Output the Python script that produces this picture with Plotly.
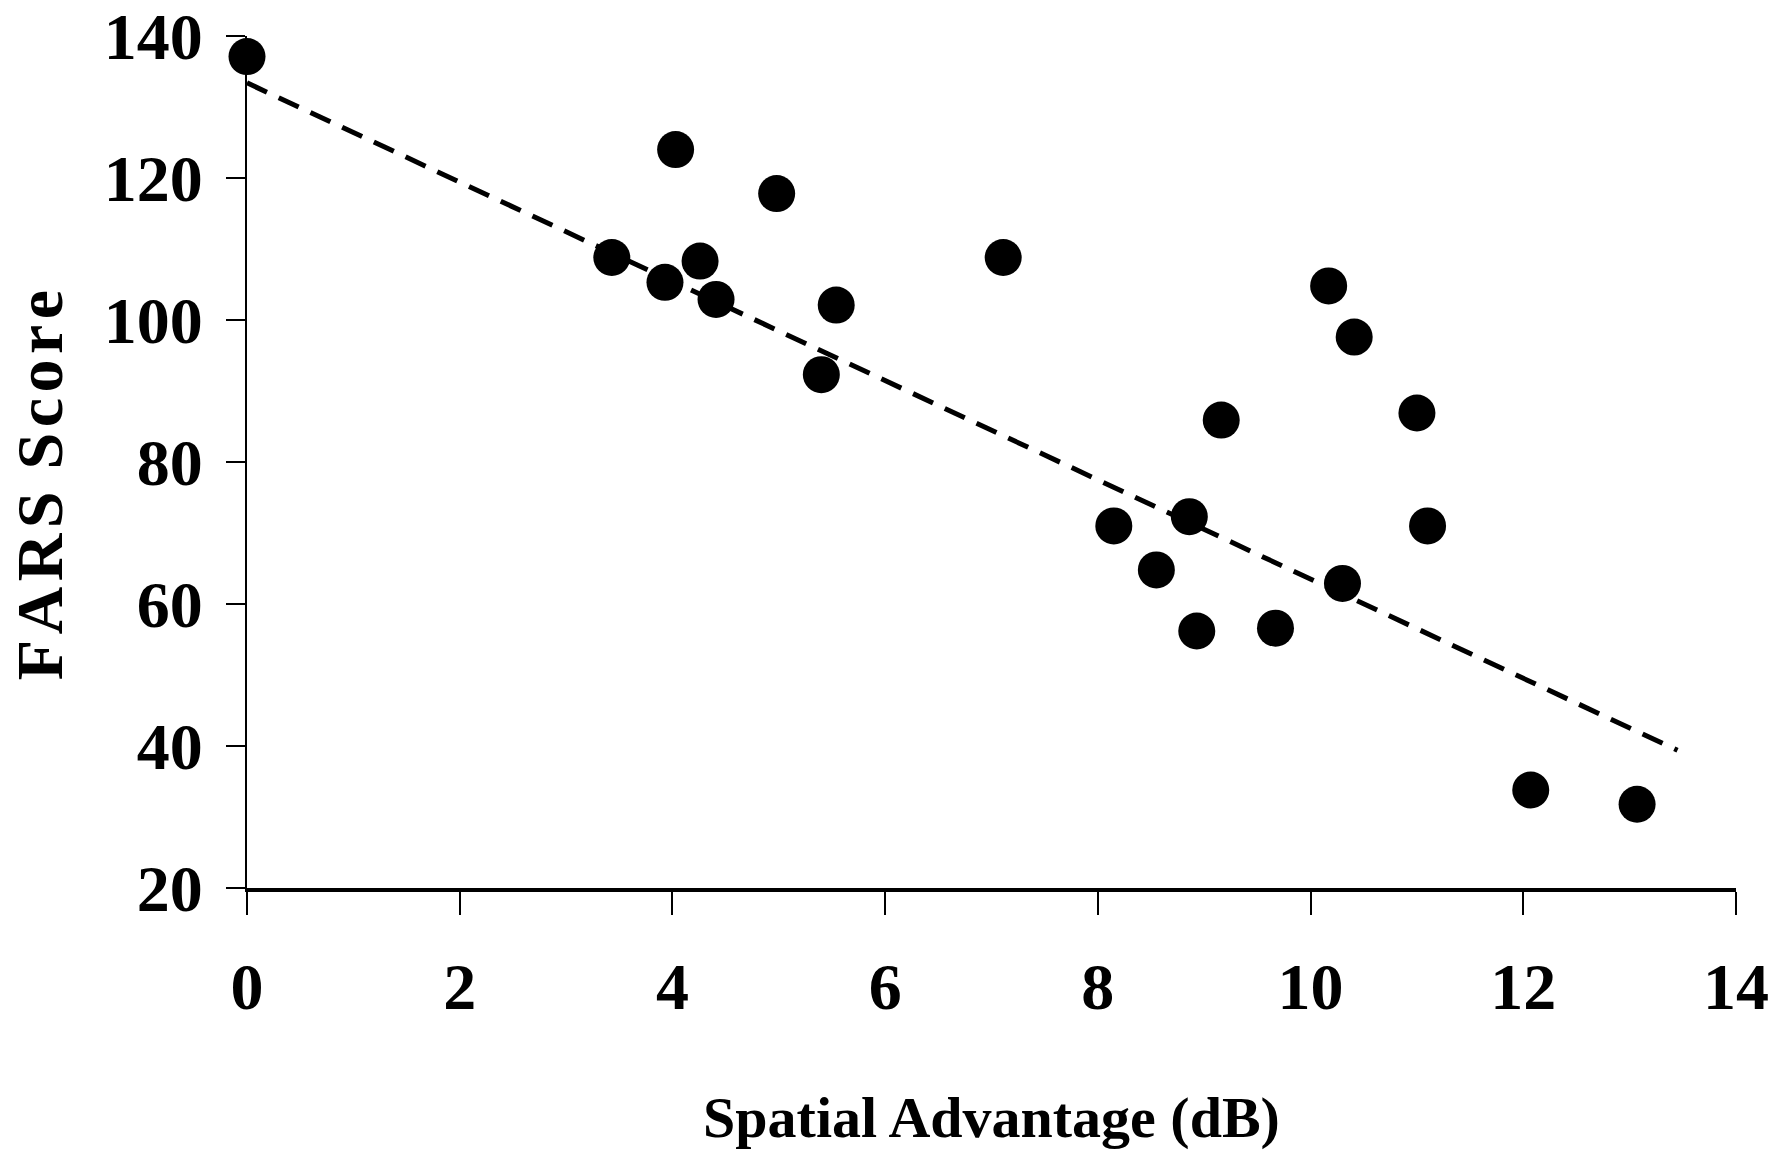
import plotly.graph_objects as go

# Data
spatial_advantage_db = [0.0, 4.03, 4.98, 3.43, 3.93, 4.26, 4.41, 5.54, 5.40, 7.11,
                        10.17, 10.41, 9.16, 11.00, 8.15, 8.86, 11.10, 8.55, 10.30,
                        8.93, 9.67, 12.07, 13.07]
fars_score = [137.1, 124.0, 117.8, 108.8, 105.3, 108.3, 102.9, 102.1, 92.3, 108.8,
              104.8, 97.6, 85.9, 86.9, 71.0, 72.3, 71.0, 64.8, 62.9,
              56.2, 56.6, 33.8, 31.8]

trend_x = [0.0, 13.45]
trend_y = [133.4, 39.4]

x_ticks = [0, 2, 4, 6, 8, 10, 12, 14]
y_ticks = [20, 40, 60, 80, 100, 120, 140]

FONT = "Liberation Serif, Times New Roman, serif"
HS = "\u200a"
# trailing non-breaking spaces nudge the rotated title slightly downward
y_title = HS.join("FARS") + " " + HS + HS.join("Score") + "\u00a0\u00a0\u2009"

fig = go.Figure()
fig.add_trace(go.Scatter(
    x=trend_x, y=trend_y, mode="lines",
    line=dict(color="black", width=5, dash="22px,13px"),
    showlegend=False, hoverinfo="skip",
))
fig.add_trace(go.Scatter(
    x=spatial_advantage_db, y=fars_score, mode="markers",
    marker=dict(color="black", size=37, line=dict(width=0)),
    cliponaxis=False, showlegend=False,
))

fig.update_layout(
    width=1783, height=1150,
    margin=dict(l=247, r=47, t=36, b=262, autoexpand=False),
    paper_bgcolor="white", plot_bgcolor="white",
    font=dict(family=FONT, color="black"),
    xaxis=dict(
        range=[0, 14], tickvals=x_ticks, ticktext=[str(v) for v in x_ticks],
        showgrid=False, zeroline=False, showline=True, linecolor="black", linewidth=4,
        ticks="outside", ticklen=23, tickwidth=2, tickcolor="black",
        ticklabelstandoff=15,
        tickfont=dict(family=FONT, size=66, color="black", weight="bold"),
        title=dict(text="<b>Spatial Advantage (dB)</b>", standoff=88,
                   font=dict(family=FONT, size=58, color="black")),
        automargin=False,
    ),
    yaxis=dict(
        range=[20, 140], tickvals=y_ticks, ticktext=[str(v) for v in y_ticks],
        showgrid=False, zeroline=False, showline=True, linecolor="black", linewidth=2,
        ticks="outside", ticklen=19, tickwidth=2, tickcolor="black",
        ticklabelstandoff=10,
        tickfont=dict(family=FONT, size=66, color="black", weight="bold"),
        title=dict(text="<b>" + y_title + "</b>", standoff=20,
                   font=dict(family=FONT, size=66, color="black")),
        automargin=False,
    ),
)

fig.write_html("out.html")
